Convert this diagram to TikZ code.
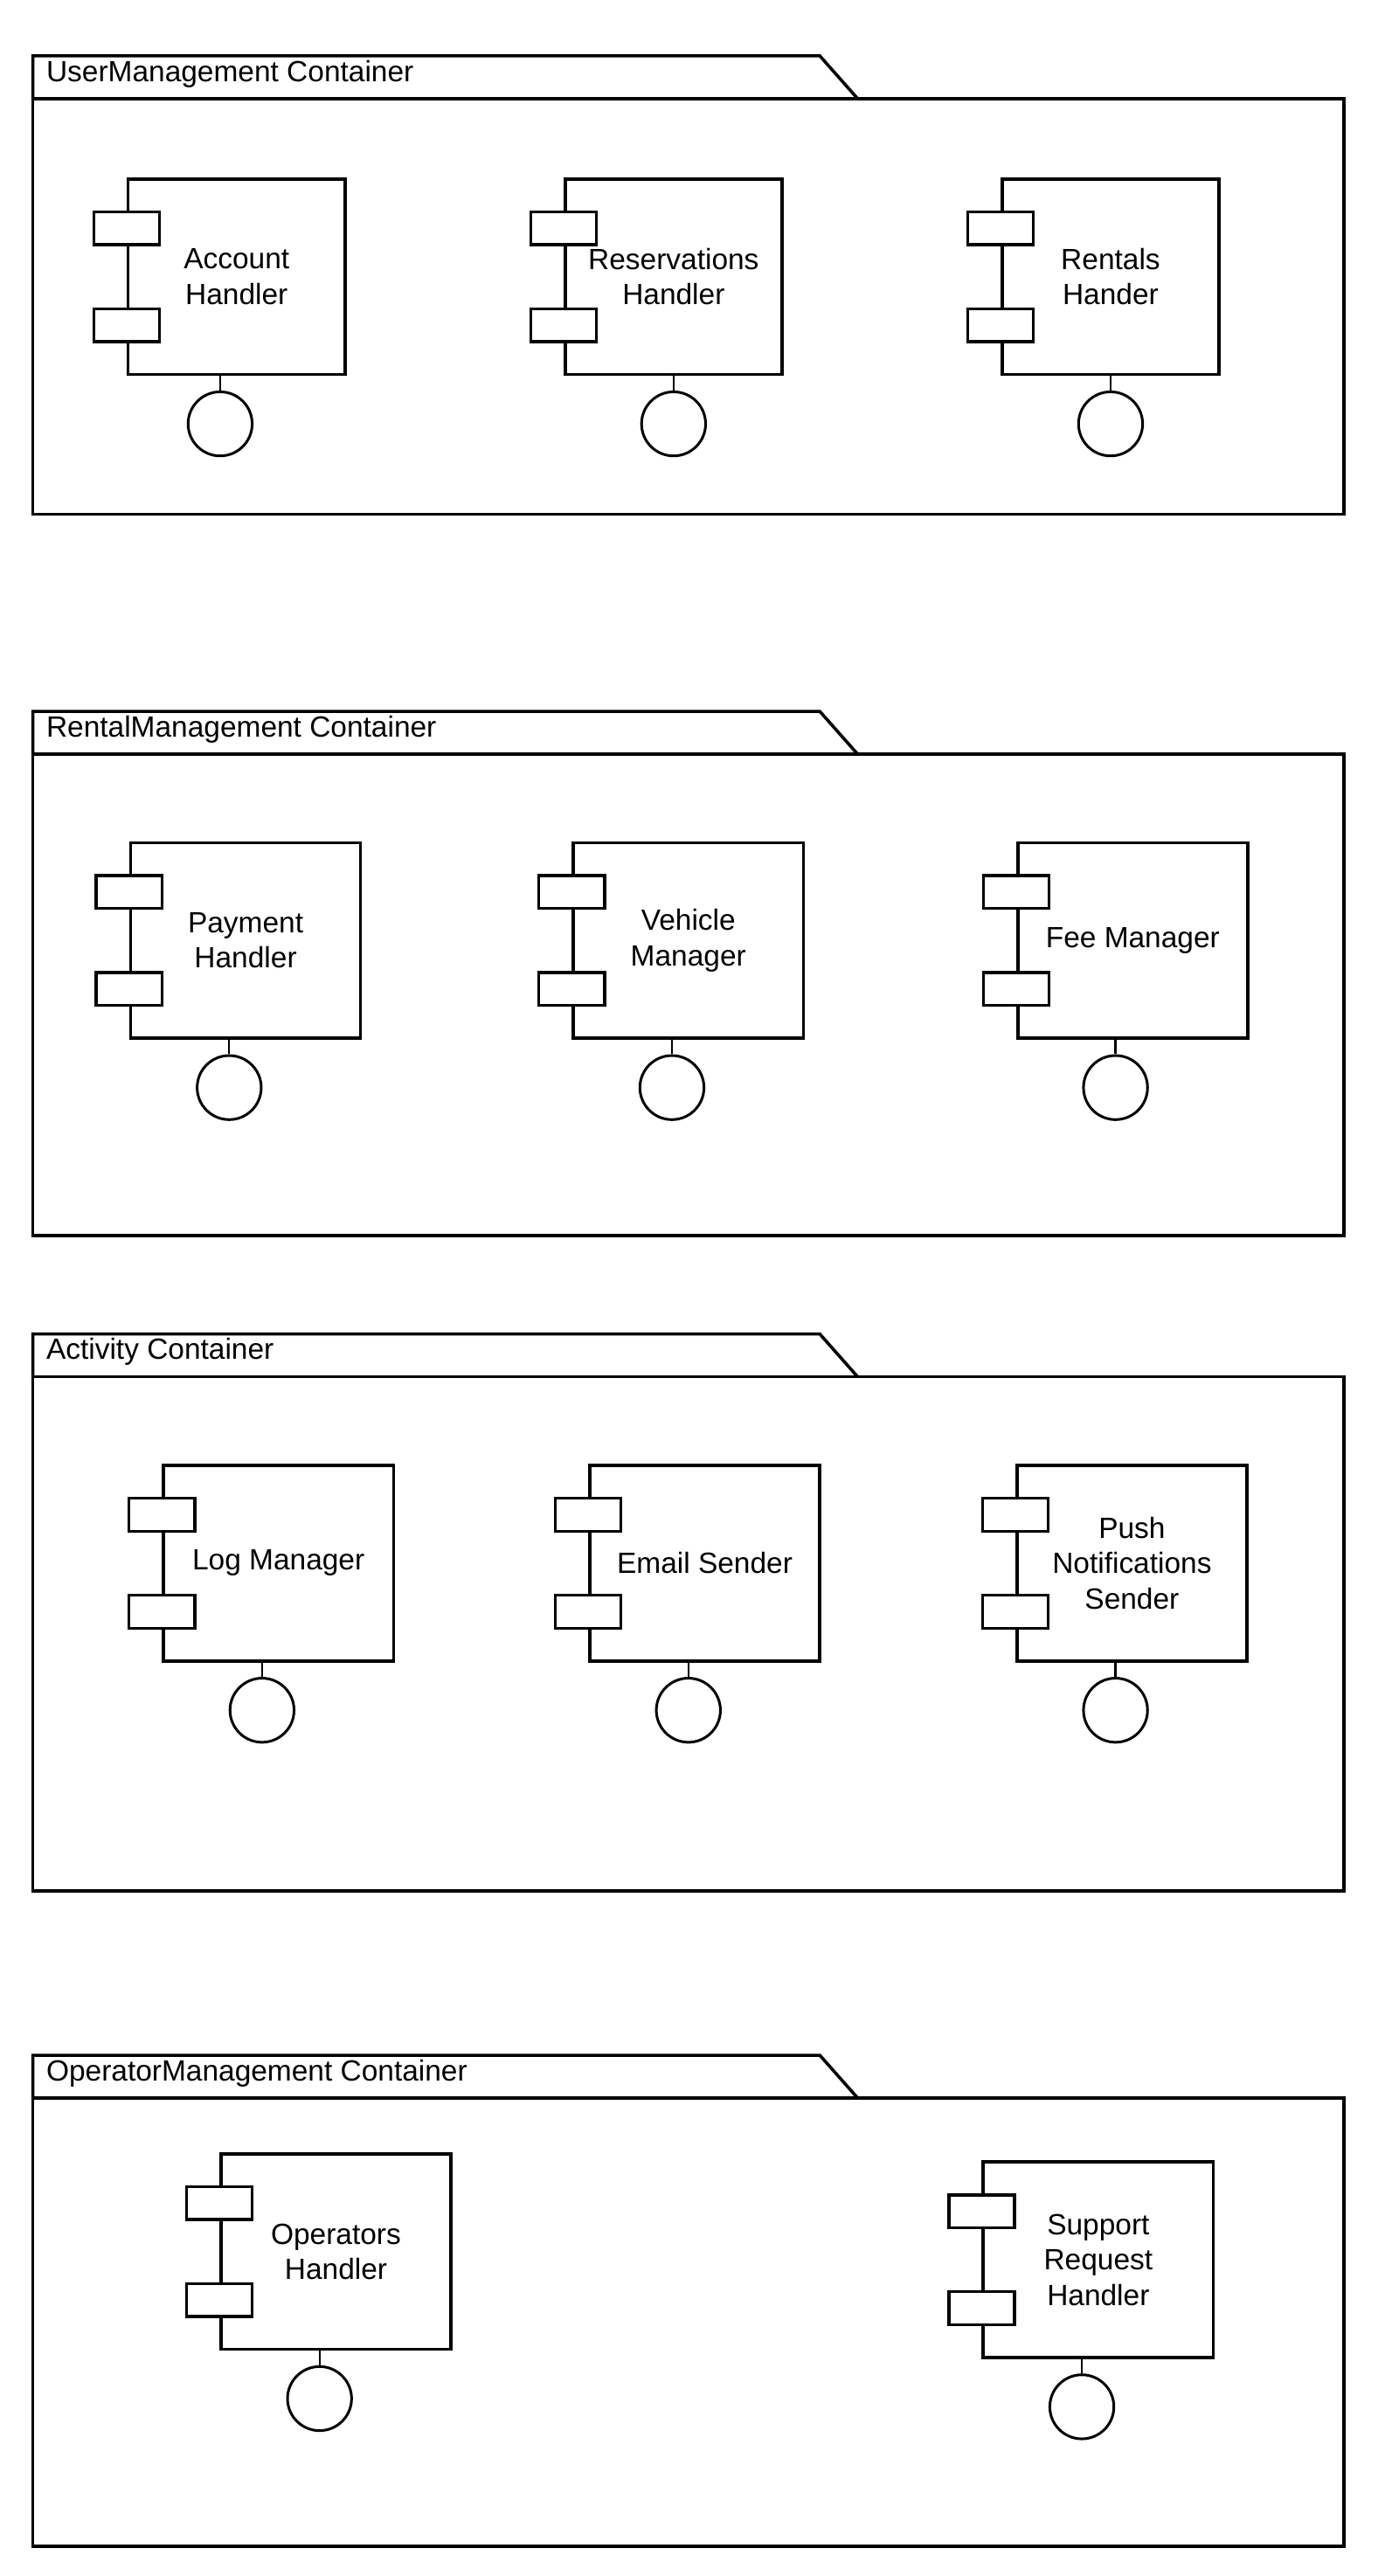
\documentclass[tikz,border=0pt]{standalone}
\usepackage{fontspec}
\setmainfont{Liberation Sans}
\usetikzlibrary{positioning}

\tikzset{
  frame/.style={line width=1.9pt, line join=miter},
  title/.style={anchor=west, inner sep=0pt},
  comp/.style={draw, line width=1.9pt, minimum width=#1, minimum height=119pt,
    align=center, inner sep=0pt},
  comp/.default=140pt,
  port/.style={draw, fill=white, line width=1.8pt, minimum width=40pt,
    minimum height=20pt, inner sep=0pt},
  iface/.style={circle, draw, line width=1.6pt, minimum size=39pt, inner sep=0pt},
  stub/.style={line width=1.2pt}
}

\begin{document}
\begin{tikzpicture}[x=1pt, y=-1pt, font=\fontsize{17.8pt}{21.5pt}\selectfont]

      \useasboundingbox (0,0) rectangle (843,1568);

      % containers
      \draw[frame] (20,60) -- (20,34) -- (499,34) -- (522,60);
      \draw[frame] (20,60) rectangle (818,313);
      \node[title] (um) at (28,45) {UserManagement Container};

      \draw[frame] (20,459) -- (20,433) -- (499,433) -- (522,459);
      \draw[frame] (20,459) rectangle (818,752);
      \node[title] (rm) at (28,444) {RentalManagement Container};

      \draw[frame] (20,838) -- (20,812) -- (499,812) -- (522,838);
      \draw[frame] (20,838) rectangle (818,1151);
      \node[title] (act) at (28,823) {Activity Container};

      \draw[frame] (20,1277) -- (20,1251) -- (499,1251) -- (522,1277);
      \draw[frame] (20,1277) rectangle (818,1550);
      \node[title] (om) at (28,1262) {OperatorManagement Container};

      % components
      \node[comp=132pt] (acc) at (144,168.5) {Account\\Handler};
      \node[comp=132pt] (res) at (410,168.5) {Reservations\\Handler};
      \node[comp=132pt] (ren) at (676,168.5) {Rentals\\Hander};
      \node[comp] (pay) at (149.5,572.5) {Payment\\Handler};
      \node[comp] (veh) at (419,572.5) {Vehicle\\Manager};
      \node[comp] (fee) at (689.5,572.5) {Fee Manager};
      \node[comp] (log) at (169.5,951.5) {Log Manager};
      \node[comp] (mail) at (429,951.5) {Email Sender};
      \node[comp] (push) at (689,951.5) {Push\\Notifications\\Sender};
      \node[comp] (ops) at (204.5,1370.5) {Operators\\Handler};
      \node[comp] (sup) at (668.5,1375.5) {Support\\Request\\Handler};

      % ports
      \begin{scope}[every node/.style={port}]
        \foreach \c in {acc,res,ren,pay,veh,fee,log,mail,push,ops,sup} {
          \node (\c-p1) at ([yshift=29.5pt]\c.west) {};
          \node (\c-p2) at ([yshift=-29.5pt]\c.west) {};
        }
      \end{scope}

      % interfaces
      \begin{scope}[every node/.style={iface}]
        \node (acc-i)  at (134,258)    {};
        \node (res-i)  at (410,258)    {};
        \node (ren-i)  at (676,258)    {};
        \node (pay-i)  at (139.5,662)  {};
        \node (veh-i)  at (409,662)    {};
        \node (fee-i)  at (679,662)    {};
        \node (log-i)  at (159.5,1041) {};
        \node (mail-i) at (419,1041)   {};
        \node (push-i) at (679,1041)   {};
        \node (ops-i)  at (194.5,1460) {};
        \node (sup-i)  at (658.5,1465) {};
      \end{scope}

      \foreach \c in {acc,res,ren,pay,veh,fee,log,mail,push,ops,sup}
        \draw[stub] (\c-i.north) -- (\c-i.north |- \c.south);

    \end{tikzpicture}
\end{document}
